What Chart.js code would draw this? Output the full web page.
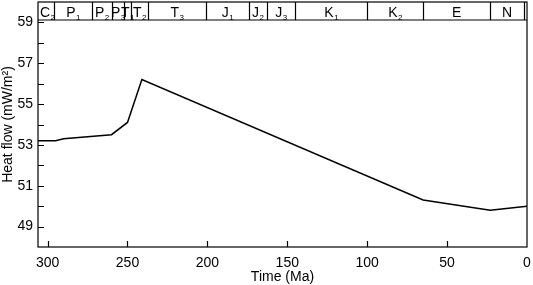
<!DOCTYPE html>
<html>
<head>
<meta charset="utf-8">
<script src="https://cdn.jsdelivr.net/npm/chart.js@4/dist/chart.umd.min.js"></script>
<style>
  html, body { margin: 0; padding: 0; background: #fff; }
  #wrap { width: 533px; height: 285px; }
</style>
</head>
<body>
<div id="wrap"><canvas id="chart"></canvas></div>
<script>
// heat flow history
const timeMa = [306, 295, 290, 260, 250, 241, 65, 23, 0];
const heatFlow = [53.2, 53.2, 53.3, 53.5, 54.1, 56.2, 50.3, 49.8, 50.0];

// stratigraphic band along the top
const periodNames = ['C', 'P', 'P', 'P', 'T', 'T', 'T', 'J', 'J', 'J', 'K', 'K', 'E', 'N', ''];
const periodSubs = ['2', '1', '2', '3', '1', '2', '3', '1', '2', '3', '1', '2', '', '', ''];
const periodBounds = [306, 296, 272, 260, 252, 248, 237, 201, 174, 163, 145, 100, 65, 23, 2, 0];

const xTicks = [300, 250, 200, 150, 100, 50];
const yTicks = [49, 50, 51, 52, 53, 54, 55, 56, 57, 58, 59];

const FONT = 'Liberation Sans, Arial, sans-serif';

const framePlugin = {
    id: 'frame',
    afterDraw(chart) {
        const ctx = chart.ctx;
        const a = chart.chartArea;
        const x = chart.scales.x;
        const y = chart.scales.y;
        const bandH = 18;
        ctx.save();
        ctx.strokeStyle = '#000';
        ctx.lineWidth = 1.2;

        // frame
        ctx.strokeRect(a.left, a.top, a.right - a.left, a.bottom - a.top);

        // inward ticks
        ctx.beginPath();
        xTicks.forEach(t => {
            const px = Math.round(x.getPixelForValue(t)) + 0.5;
            ctx.moveTo(px, a.bottom);
            ctx.lineTo(px, a.bottom - 6);
        });
        yTicks.forEach(t => {
            const py = Math.round(y.getPixelForValue(t)) + 0.5;
            ctx.moveTo(a.left, py);
            ctx.lineTo(a.left + 6, py);
        });
        ctx.stroke();

        // period band
        ctx.beginPath();
        ctx.moveTo(a.left, a.top + bandH);
        ctx.lineTo(a.right, a.top + bandH);
        for (let i = 1; i < periodBounds.length - 1; i++) {
            const px = Math.round(x.getPixelForValue(periodBounds[i])) + 0.5;
            ctx.moveTo(px, a.top);
            ctx.lineTo(px, a.top + bandH);
        }
        ctx.stroke();

        ctx.fillStyle = '#000';
        ctx.textBaseline = 'alphabetic';
        for (let i = 0; i < periodNames.length; i++) {
            if (!periodNames[i]) continue;
            const x0 = x.getPixelForValue(periodBounds[i]);
            const x1 = x.getPixelForValue(periodBounds[i + 1]);
            ctx.font = '14px ' + FONT;
            const w1 = ctx.measureText(periodNames[i]).width;
            ctx.font = '8px ' + FONT;
            const w2 = periodSubs[i] ? ctx.measureText(periodSubs[i]).width : 0;
            let cx = (x0 + x1) / 2 - (w1 + w2) / 2;
            if (i === 0) cx = x0 + 2;
            ctx.font = '14px ' + FONT;
            ctx.textAlign = 'left';
            ctx.fillText(periodNames[i], cx, a.top + 15);
            if (periodSubs[i]) {
                ctx.font = '8px ' + FONT;
                ctx.fillText(periodSubs[i], cx + w1 + 0.5, a.top + 18);
            }
        }
        ctx.restore();
    }
};

const ctx = document.getElementById('chart');
const lineChart = new Chart(ctx, {
    type: 'scatter',
    data: {
        datasets: [{
            data: timeMa.map((t, i) => ({x: t, y: heatFlow[i]})),
            showLine: true,
            borderColor: '#000',
            borderWidth: 1.5,
            pointRadius: 0,
            tension: 0
        }]
    },
    options: {
        responsive: true,
        maintainAspectRatio: false,
        animation: false,
        layout: {
            padding: {top: 2, right: 6, left: 0, bottom: 0}
        },
        plugins: {
            legend: {display: false},
            tooltip: {enabled: false}
        },
        scales: {
            x: {
                type: 'linear',
                reverse: true,
                min: 0,
                max: 306,
                afterFit: s => { s.height = 38; s.paddingLeft = 0; s.paddingRight = 0; },
                grid: {display: false, drawTicks: false},
                border: {display: false},
                ticks: {
                    stepSize: 50,
                    includeBounds: false,
                    autoSkip: false,
                    padding: 8,
                    color: '#000',
                    font: {family: FONT, size: 14},
                    maxRotation: 0
                },
                title: {
                    display: true,
                    text: 'Time (Ma)',
                    color: '#000',
                    font: {family: FONT, size: 14, lineHeight: 1.1},
                    padding: {top: 0, bottom: 0}
                }
            },
            y: {
                min: 48,
                max: 60,
                afterFit: s => { s.width = 38; s.paddingTop = 0; s.paddingBottom = 0; },
                grid: {display: false, drawTicks: false},
                border: {display: false},
                ticks: {
                    stepSize: 1,
                    autoSkip: false,
                    padding: 5,
                    color: '#000',
                    font: {family: FONT, size: 14},
                    callback: v => (Math.round(v) % 2 === 1 && v < 60) ? String(v) : ''
                },
                title: {
                    display: true,
                    text: 'Heat flow (mW/m²)',
                    color: '#000',
                    font: {family: FONT, size: 14, lineHeight: 1.2},
                    padding: {top: 0, bottom: 0}
                }
            }
        }
    },
    plugins: [framePlugin]
});
</script>
</body>
</html>
